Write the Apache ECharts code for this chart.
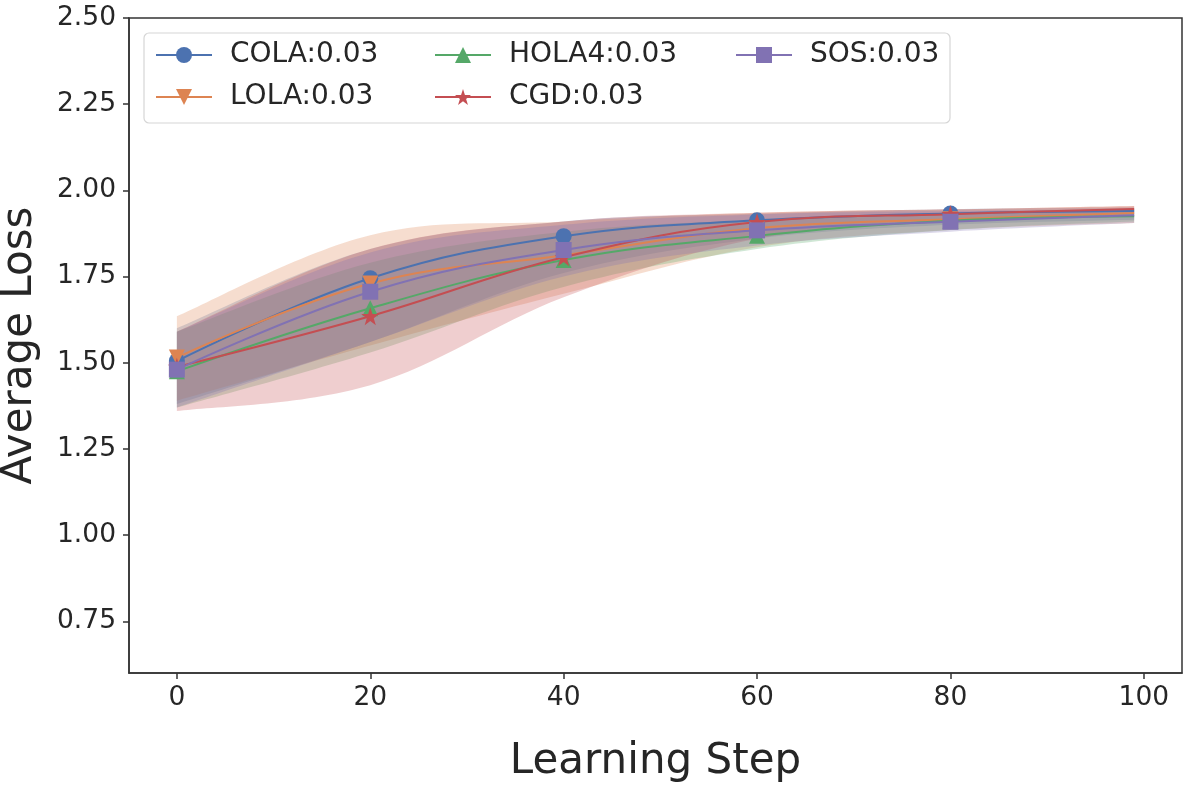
<!DOCTYPE html>
<html>
<head>
    <meta charset="utf-8">
    <title>Average Loss</title>
    <script src="https://cdn.jsdelivr.net/npm/echarts@6/dist/echarts.min.js"></script>
    <style type="text/css">
        html, body { margin: 0; padding: 0; background: #fff; }
        #main { width: 1200px; height: 800px; }
    </style>
</head>
<body>
<div id="main"></div>
<script type="text/javascript">
    // learning steps where values were read (markers at 0..80, last point has no marker)
    var steps = [0, 20, 40, 60, 80, 99];
    var xTicks = [0, 20, 40, 60, 80, 100];
    var yTicks = [0.75, 1.00, 1.25, 1.50, 1.75, 2.00, 2.25, 2.50];

    var colaMean = [1.505, 1.745, 1.867, 1.913, 1.933, 1.940];
    var colaUp   = [1.600, 1.830, 1.910, 1.932, 1.945, 1.950];
    var colaLow  = [1.380, 1.560, 1.760, 1.860, 1.900, 1.915];

    var lolaMean = [1.515, 1.730, 1.812, 1.890, 1.916, 1.934];
    var lolaUp   = [1.635, 1.870, 1.910, 1.935, 1.945, 1.955];
    var lolaLow  = [1.390, 1.550, 1.700, 1.835, 1.885, 1.905];

    var holaMean = [1.475, 1.658, 1.798, 1.868, 1.912, 1.925];
    var holaUp   = [1.590, 1.790, 1.880, 1.915, 1.935, 1.945];
    var holaLow  = [1.370, 1.530, 1.720, 1.830, 1.885, 1.910];

    var cgdMean  = [1.488, 1.635, 1.806, 1.908, 1.931, 1.946];
    var cgdUp    = [1.590, 1.830, 1.910, 1.935, 1.945, 1.955];
    var cgdLow   = [1.360, 1.435, 1.690, 1.860, 1.910, 1.930];

    var sosMean  = [1.480, 1.706, 1.827, 1.884, 1.909, 1.928];
    var sosUp    = [1.590, 1.820, 1.900, 1.930, 1.940, 1.945];
    var sosLow   = [1.370, 1.560, 1.750, 1.840, 1.880, 1.905];

    var starPath = 'path://M50,0 L61.8,35.1 L98.9,35.1 L68.9,56.8 L80.3,91.9 L50,70.1 L19.7,91.9 L31.1,56.8 L1.1,35.1 L38.2,35.1 Z';

    var runs = [
        {name: 'COLA:0.03',  color: '#4C72B0', symbol: 'circle',   rotate: 0,   mean: colaMean, up: colaUp, low: colaLow},
        {name: 'LOLA:0.03',  color: '#DD8452', symbol: 'triangle', rotate: 180, mean: lolaMean, up: lolaUp, low: lolaLow},
        {name: 'HOLA4:0.03', color: '#55A868', symbol: 'triangle', rotate: 0,   mean: holaMean, up: holaUp, low: holaLow},
        {name: 'CGD:0.03',   color: '#C44E52', symbol: starPath,   rotate: 0,   mean: cgdMean,  up: cgdUp,  low: cgdLow},
        {name: 'SOS:0.03',   color: '#8172B3', symbol: 'rect',     rotate: 0,   mean: sosMean,  up: sosUp,  low: sosLow}
    ];

    var FONT = 'DejaVu Sans';

    // cubic segments through pixel points (pts already mapped by api.coord)
    function curveTo(pts, k) {
        var d = '';
        for (var i = 0; i < pts.length - 1; i++) {
            var p0 = pts[i - 1] || pts[i], p1 = pts[i], p2 = pts[i + 1], p3 = pts[i + 2] || pts[i + 1];
            var c1x = p1[0] + (p2[0] - p0[0]) * k, c1y = p1[1] + (p2[1] - p0[1]) * k;
            var c2x = p2[0] - (p3[0] - p1[0]) * k, c2y = p2[1] - (p3[1] - p1[1]) * k;
            d += ' C' + c1x + ',' + c1y + ' ' + c2x + ',' + c2y + ' ' + p2[0] + ',' + p2[1];
        }
        return d;
    }

    function bandSeries(r) {
        return {
            name: 'band_' + r.name,
            type: 'custom',
            silent: true,
            z: 1,
            data: [[steps[0], r.mean[0]]],
            encode: {x: 0, y: 1},
            renderItem: function (params, api) {
                var up = steps.map(function (s, i) { return api.coord([s, r.up[i]]); });
                var low = steps.map(function (s, i) { return api.coord([s, r.low[i]]); }).reverse();
                var d = 'M' + up[0][0] + ',' + up[0][1] + curveTo(up, 0.18) +
                    ' L' + low[0][0] + ',' + low[0][1] + curveTo(low, 0.18) + ' Z';
                return {
                    type: 'path',
                    shape: {pathData: d},
                    style: {fill: r.color, opacity: 0.28, stroke: null}
                };
            }
        };
    }

    var series = [];
    runs.forEach(function (r) { series.push(bandSeries(r)); });

    // mean lines with markers
    runs.forEach(function (r) {
        series.push({
            name: r.name,
            type: 'line',
            smooth: 0.4,
            z: 3,
            symbol: r.symbol,
            symbolRotate: r.rotate,
            symbolSize: r.symbol === starPath ? 18 : 16,
            showAllSymbol: true,
            color: r.color,
            itemStyle: {color: r.color},
            lineStyle: {color: r.color, width: 2},
            data: steps.map(function (s, i) {
                var it = {value: [s, r.mean[i]]};
                if (i === steps.length - 1) { it.symbol = 'none'; }
                return it;
            })
        });
    });

    function legendBlock(left, names) {
        return {
            left: left,
            top: 41,
            z: 20,
            orient: 'vertical',
            padding: 0,
            itemWidth: 56,
            itemHeight: 20,
            itemGap: 14,
            selectedMode: false,
            data: names,
            textStyle: {fontFamily: FONT, fontSize: 28, color: '#262626', lineHeight: 28, padding: [0, 0, 0, 13]}
        };
    }

    var option = {
        animation: false,
        backgroundColor: '#fff',
        textStyle: {fontFamily: FONT},
        grid: {
            left: 129, right: 18, top: 18, bottom: 127,
            outerBoundsMode: 'none', containLabel: false,
            show: true, borderColor: '#333', borderWidth: 1.5
        },
        graphic: [{
            type: 'rect',
            z: 10,
            shape: {x: 144, y: 33, width: 806, height: 90, r: 5},
            style: {fill: 'rgba(255,255,255,0.8)', stroke: '#d6d6d6', lineWidth: 1.2}
        }],
        legend: [
            legendBlock(155, ['COLA:0.03', 'LOLA:0.03']),
            legendBlock(434, ['HOLA4:0.03', 'CGD:0.03']),
            legendBlock(735, ['SOS:0.03'])
        ],
        xAxis: {
            type: 'value',
            min: -4.95,
            max: 103.95,
            name: 'Learning Step',
            nameLocation: 'middle',
            nameGap: 68,
            nameTextStyle: {fontFamily: FONT, fontSize: 42, color: '#262626'},
            axisLine: {show: true, onZero: false, lineStyle: {color: '#333', width: 1.5}},
            axisTick: {show: true, length: 6, lineStyle: {color: '#333', width: 1.5}, customValues: xTicks},
            axisLabel: {fontFamily: FONT, fontSize: 26.5, color: '#262626', margin: 12, customValues: xTicks},
            splitLine: {show: false}
        },
        yAxis: {
            type: 'value',
            min: 0.6,
            max: 2.5,
            name: 'Average Loss',
            nameLocation: 'middle',
            nameGap: 88,
            nameTextStyle: {fontFamily: FONT, fontSize: 42, color: '#262626'},
            axisLine: {show: true, onZero: false, lineStyle: {color: '#333', width: 1.5}},
            axisTick: {show: true, length: 6, lineStyle: {color: '#333', width: 1.5}, customValues: yTicks},
            axisLabel: {
                fontFamily: FONT, fontSize: 26.5, color: '#262626', margin: 13, customValues: yTicks,
                formatter: function (v) { return v.toFixed(2); }
            },
            splitLine: {show: false}
        },
        series: series
    };

    var myChart = echarts.init(document.getElementById('main'));
    myChart.setOption(option);
</script>
</body>
</html>
